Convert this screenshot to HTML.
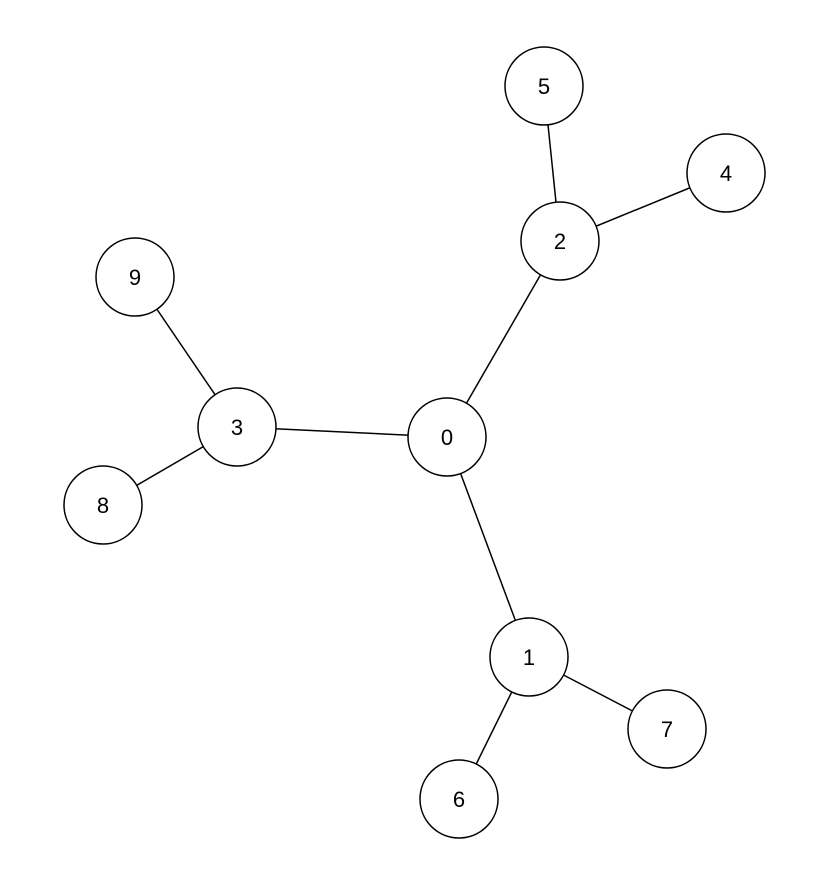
<!DOCTYPE html>
<html><head><meta charset="utf-8"><style>html,body{margin:0;padding:0;background:#fff}svg{display:block}</style></head>
<body>
<svg width="816" height="894" viewBox="0 0 816 894" xmlns="http://www.w3.org/2000/svg">
<g stroke="#000" stroke-width="1.5">
<line x1="544" y1="86" x2="560" y2="241"/>
<line x1="726" y1="173" x2="560" y2="241"/>
<line x1="560" y1="241" x2="447" y2="437"/>
<line x1="135" y1="277" x2="237" y2="427"/>
<line x1="237" y1="427" x2="447" y2="437"/>
<line x1="103" y1="505" x2="237" y2="427"/>
<line x1="447" y1="437" x2="529" y2="657"/>
<line x1="529" y1="657" x2="667" y2="729"/>
<line x1="529" y1="657" x2="459" y2="799"/>
</g>
<g fill="#fff" stroke="#000" stroke-width="1.5">
<circle cx="544" cy="86" r="39"/>
<circle cx="726" cy="173" r="39"/>
<circle cx="560" cy="241" r="39"/>
<circle cx="135" cy="277" r="39"/>
<circle cx="237" cy="427" r="39"/>
<circle cx="447" cy="437" r="39"/>
<circle cx="103" cy="505" r="39"/>
<circle cx="529" cy="657" r="39"/>
<circle cx="667" cy="729" r="39"/>
<circle cx="459" cy="799" r="39"/>
</g>
<g font-family="Liberation Sans, sans-serif" font-size="22" text-anchor="middle" fill="#000">
<text x="544" y="94">5</text>
<text x="726" y="181">4</text>
<text x="560" y="249">2</text>
<text x="135" y="285">9</text>
<text x="237" y="435">3</text>
<text x="447" y="445">0</text>
<text x="103" y="513">8</text>
<text x="529" y="665">1</text>
<text x="667" y="737">7</text>
<text x="459" y="807">6</text>
</g>
</svg>
</body></html>
